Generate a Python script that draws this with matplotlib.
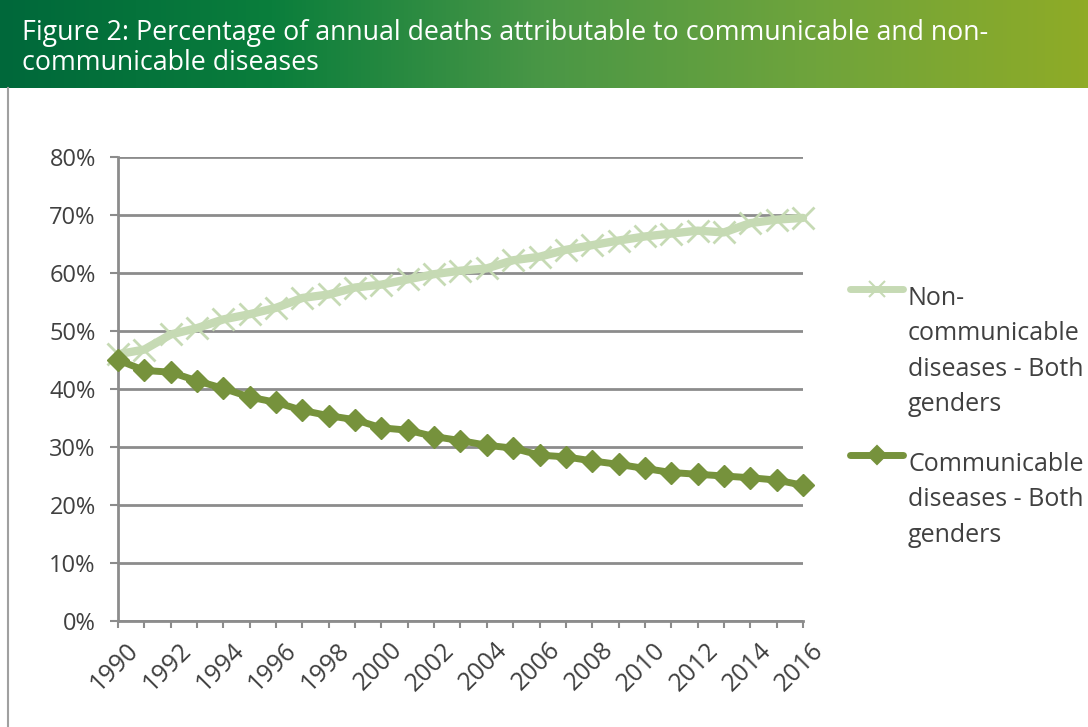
import matplotlib
matplotlib.use("Agg")
import matplotlib.pyplot as plt
import numpy as np
from matplotlib.lines import Line2D
from matplotlib.colors import LinearSegmentedColormap
from matplotlib.transforms import ScaledTranslation

years = list(range(1990, 2017))
non_communicable = [46.0, 46.8, 49.4, 50.5, 52.0, 52.9, 54.0, 55.7, 56.3, 57.5,
                    58.0, 58.9, 59.8, 60.4, 60.8, 62.2, 62.8, 64.0, 64.8, 65.6,
                    66.3, 66.8, 67.3, 67.0, 68.6, 69.2, 69.5]
communicable = [45.0, 43.2, 42.9, 41.4, 40.1, 38.6, 37.7, 36.3, 35.4, 34.7,
                33.3, 32.9, 31.8, 31.1, 30.3, 29.8, 28.6, 28.3, 27.6, 27.0,
                26.3, 25.6, 25.3, 25.0, 24.7, 24.3, 23.4]
labels = ["Non-\ncommunicable\ndiseases - Both\ngenders",
          "Communicable\ndiseases - Both\ngenders"]
title = "Figure 2: Percentage of annual deaths attributable to communicable and non-\ncommunicable diseases"
yticks = [0, 10, 20, 30, 40, 50, 60, 70, 80]
xticklabels = list(range(1990, 2017, 2))

FONT = "Open Sans"
W, H = 1088, 727
fig = plt.figure(figsize=(W / 100, H / 100), dpi=100)

# title banner gradient
bax = fig.add_axes([0, 1 - 88 / H, 1, 88 / H])
cmap = LinearSegmentedColormap.from_list("g", ["#00683a", "#0a7e3c", "#4a9746", "#6fa43c", "#8fab27"])
bax.imshow(np.linspace(0, 1, 256)[None, :], aspect="auto", cmap=cmap, extent=[0, 1, 0, 1])
bax.set_axis_off()
bax.text(22 / W, 0.45, title, color="white", fontsize=19.3, family=FONT, va="center", ha="left",
         linespacing=1.1, transform=bax.transAxes, fontstretch="semi-condensed")

# left border
fig.add_artist(Line2D([8 / W, 8 / W], [0, 1 - 88 / H], transform=fig.transFigure, color="#a0a0a0", lw=1.5))

ax = fig.add_axes([118 / W, 1 - 621 / H, (803 - 118) / W, (621 - 157) / H])
light = "#c6dab4"
dark = "#76923c"
ax.plot(years, non_communicable, color=light, lw=6, marker="x", markersize=16, mew=2, zorder=3,
        solid_capstyle="round")
ax.plot(years, communicable, color=dark, lw=5, marker="D", markersize=11, zorder=4,
        solid_capstyle="round")

ax.set_xlim(1990, 2016)
ax.set_ylim(0, 80)
ax.set_yticks(yticks)
ax.set_yticklabels([f"{v}%" for v in yticks], family=FONT, fontsize=17, color="#404040")
ax.set_xticks(xticklabels)
ax.set_xticks(years, minor=True)
ax.set_xticklabels([str(v) for v in xticklabels], rotation=45, ha="right", va="top",
                   rotation_mode="anchor", family=FONT, fontsize=18, color="#404040")
ax.tick_params(axis="x", which="both", direction="out", length=5, width=1.5, color="#8c8c8c", pad=7)
ax.tick_params(axis="y", direction="out", length=6, width=1.5, color="#8c8c8c", pad=10)
shift = ScaledTranslation(8 / 100, 0, fig.dpi_scale_trans)
for lbl in ax.get_xticklabels():
    lbl.set_transform(lbl.get_transform() + shift)
ax.grid(axis="y", color="#8c8c8c", lw=2)
ax.set_axisbelow(True)
for s in ["top", "right"]:
    ax.spines[s].set_visible(False)
for s in ["left", "bottom"]:
    ax.spines[s].set_color("#8c8c8c")
    ax.spines[s].set_linewidth(2)
for ln in ax.lines:
    ln.set_clip_on(False)

# legend (manual)
def legend_entry(y_px, color, marker, ms, label):
    yf = 1 - y_px / H
    fig.add_artist(Line2D([850 / W, 903 / W], [yf, yf], transform=fig.transFigure, color=color, lw=5,
                          solid_capstyle="round"))
    fig.add_artist(Line2D([876.5 / W], [yf], transform=fig.transFigure, color=color, marker=marker,
                          markersize=ms, mew=1.5, lw=0))
    fig.text(908 / W, yf + 3 / H, label, family=FONT, fontsize=18, color="#404040", va="top", ha="left",
             linespacing=1.55)

legend_entry(289, light, "x", 12, labels[0])
legend_entry(455, dark, "D", 9, labels[1])

fig.savefig("out.png", dpi=100)
